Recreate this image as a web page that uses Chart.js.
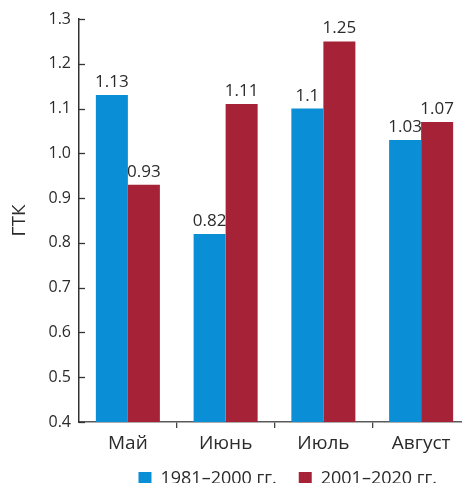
<!DOCTYPE html>
<html lang="ru">
<head>
<meta charset="utf-8">
<title>ГТК</title>
<script src="https://cdn.jsdelivr.net/npm/chart.js@4/dist/chart.umd.min.js"></script>
<style>
  html, body { margin: 0; padding: 0; background: #fff; overflow: hidden; }
  #wrap { width: 462px; height: 483px; overflow: hidden; }
  canvas { display: block; }
</style>
</head>
<body>
<div id="wrap"><canvas id="chart" width="470" height="506"></canvas></div>
<script>
// Months of the growing season
const months = ['Май', 'Июнь', 'Июль', 'Август'];
// Hydrothermal coefficient, period averages
const gtk1981_2000 = [1.13, 0.82, 1.1, 1.03];
const gtk2001_2020 = [0.93, 1.11, 1.25, 1.07];
const seriesNames = ['1981–2000 гг.', '2001–2020 гг.'];
const yTicks = [0.4, 0.5, 0.6, 0.7, 0.8, 0.9, 1.0, 1.1, 1.2, 1.3];

const FONT = '"Open Sans", "Noto Sans", sans-serif';
const TEXT = '#2b2b2b';

// value labels above each bar
const valueLabels = {
  id: 'valueLabels',
  afterDatasetsDraw(chart) {
    const ctx = chart.ctx;
    ctx.save();
    ctx.font = '17px ' + FONT;
    ctx.fillStyle = TEXT;
    ctx.textAlign = 'center';
    ctx.textBaseline = 'alphabetic';
    chart.data.datasets.forEach((ds, i) => {
      chart.getDatasetMeta(i).data.forEach((bar, j) => {
        ctx.fillText(String(ds.data[j]), bar.x, bar.y - 8);
      });
    });
    ctx.restore();
  }
};

// short tick marks on the inner side of the value axis
const innerTicks = {
  id: 'innerTicks',
  afterDraw(chart) {
    const y = chart.scales.y;
    const ctx = chart.ctx;
    ctx.save();
    ctx.strokeStyle = '#333';
    ctx.lineWidth = 1.3;
    y.ticks.forEach(t => {
      const py = Math.round(y.getPixelForValue(t.value)) + 0.5;
      ctx.beginPath();
      ctx.moveTo(y.right, py);
      ctx.lineTo(y.right + 6, py);
      ctx.stroke();
    });
    ctx.restore();
  }
};

// keep the legend tucked close under the month labels
const legendLift = {
  id: 'legendLift',
  afterLayout(chart) {
    const l = chart.legend;
    if (!l) return;
    const dy = l.top - (chart.chartArea.bottom + 25.5);
    l.top -= dy;
    l.bottom -= dy;
    l.left -= 11;
    l.right -= 11;
  }
};

new Chart(document.getElementById('chart'), {
  type: 'bar',
  data: {
    labels: months,
    datasets: [
      { label: seriesNames[0], data: gtk1981_2000, backgroundColor: '#0a8fd6' },
      { label: seriesNames[1], data: gtk2001_2020, backgroundColor: '#a62337' }
    ]
  },
  options: {
    responsive: false,
    maintainAspectRatio: false,
    animation: false,
    layout: { padding: { top: 19, right: 0, bottom: 0, left: 0 } },
    datasets: { bar: { categoryPercentage: 0.655, barPercentage: 1 } },
    plugins: {
      tooltip: { enabled: false },
      legend: {
        position: 'bottom',
        align: 'end',
        labels: {
          boxWidth: 13,
          boxHeight: 13,
          padding: 22,
          color: TEXT,
          font: { family: FONT, size: 18 }
        }
      }
    },
    scales: {
      x: {
        offset: true,
        afterFit(s) { s.height = 34; },
        border: { display: true, color: '#5a5a5a', width: 1.5 },
        grid: {
          offset: true,
          drawOnChartArea: false,
          drawTicks: true,
          tickLength: 6,
          lineWidth: 1.3,
          color: c => (c.index === 0 || c.index === undefined) ? 'rgba(0,0,0,0)' : '#444'
        },
        ticks: { color: TEXT, padding: 4, font: { family: FONT, size: 19 } }
      },
      y: {
        min: 0.4,
        max: 1.3,
        afterFit(s) { s.width = 79; },
        afterBuildTicks(s) { s.ticks = yTicks.map(v => ({ value: v })); },
        border: { display: true, color: '#333', width: 1.5 },
        grid: { display: false, drawTicks: false },
        ticks: {
          color: TEXT,
          padding: 8,
          font: { family: FONT, size: 16 },
          callback: v => Number(v).toFixed(1)
        },
        title: {
          display: true,
          text: 'ГТК',
          color: TEXT,
          padding: { top: 8, bottom: 0 },
          font: { family: FONT, size: 19 }
        }
      }
    }
  },
  plugins: [valueLabels, innerTicks, legendLift]
});
</script>
</body>
</html>
